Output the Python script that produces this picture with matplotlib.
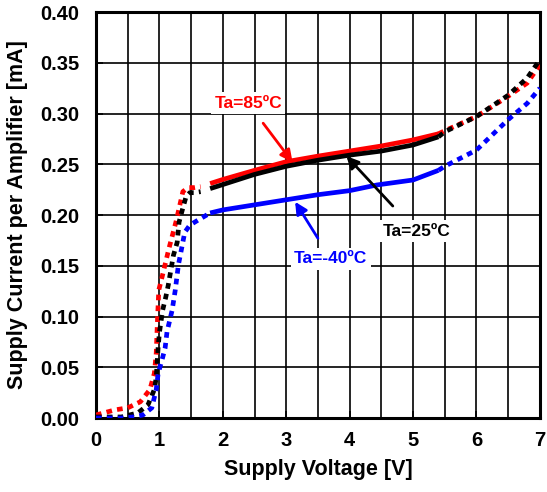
import matplotlib.pyplot as plt
import numpy as np

plt.rcParams['font.family'] = ['Liberation Sans', 'DejaVu Sans']
plt.rcParams['font.weight'] = 'bold'

# Supply voltage [V] and current [mA] per temperature
v_85 = [0.0, 0.3, 0.5, 0.7, 0.85, 0.92, 0.95, 0.97, 0.99, 1.05, 1.1, 1.15, 1.26, 1.33, 1.37, 1.45, 1.55, 1.65,
        1.8, 2.0, 2.5, 3.0, 3.5, 4.0, 4.5, 5.0, 5.4,
        5.5, 6.0, 6.5, 6.8, 7.0]
i_85 = [0.003, 0.008, 0.010, 0.016, 0.028, 0.044, 0.064, 0.097, 0.126, 0.141, 0.154, 0.167, 0.193, 0.212, 0.223, 0.227, 0.227, 0.228,
        0.231, 0.235, 0.244, 0.2525, 0.258, 0.263, 0.268, 0.274, 0.280,
        0.283, 0.297, 0.317, 0.330, 0.348]

v_25 = [0.0, 0.4, 0.66, 0.82, 0.92, 0.95, 0.98, 1.0, 1.05, 1.1, 1.14, 1.22, 1.28, 1.31, 1.37, 1.42, 1.48, 1.55, 1.65,
        1.8, 2.0, 2.5, 3.0, 3.5, 4.0, 4.5, 5.0, 5.4,
        5.5, 6.0, 6.5, 6.8, 7.0]
i_25 = [0.001, 0.001, 0.005, 0.013, 0.028, 0.040, 0.070, 0.084, 0.106, 0.119, 0.131, 0.160, 0.173, 0.193, 0.207, 0.218, 0.222, 0.222, 0.223,
        0.226, 0.230, 0.240, 0.248, 0.254, 0.259, 0.263, 0.269, 0.277,
        0.282, 0.297, 0.318, 0.335, 0.353]

v_m40 = [0.0, 0.2, 0.4, 0.58, 0.74, 0.88, 0.95, 0.98, 1.04, 1.09, 1.12, 1.2, 1.25, 1.3, 1.35, 1.4, 1.48, 1.61, 1.8,
         2.0, 2.5, 3.0, 3.5, 4.0, 4.43, 5.0, 5.4,
         5.5, 6.0, 6.5, 6.8, 7.0]
i_m40 = [0.0, 0.0, 0.0, 0.001, 0.003, 0.010, 0.028, 0.044, 0.057, 0.069, 0.085, 0.106, 0.126, 0.151, 0.167, 0.183, 0.190, 0.195, 0.202,
         0.205, 0.210, 0.215, 0.220, 0.224, 0.2296, 0.2345, 0.244,
         0.248, 0.264, 0.294, 0.310, 0.325]

series = [(v_85, i_85, '#ff0000', 1.65), (v_25, i_25, '#000000', 1.65), (v_m40, i_m40, '#0000ff', 1.8)]

fig = plt.figure(figsize=(5.47, 4.92), dpi=100)
ax = fig.add_axes([0.1755, 0.1504, 0.8115, 0.8252])

for v, i, c, low_end in series:
    v = np.array(v)
    i = np.array(i)
    low = v <= low_end
    mid = (v >= 1.8) & (v <= 5.4)
    high = v >= 5.4
    ax.plot(v[low], i[low], color=c, lw=3.4, ls=(0, (1.2, 1.1)), zorder=3)
    ax.plot(v[mid], i[mid], color=c, lw=3.4, solid_capstyle='butt', zorder=3)
    ax.plot(v[high], i[high], color=c, lw=3.4, ls=(0, (1.2, 1.1)), zorder=3)

ax.set_xlim(0, 7)
ax.set_ylim(0, 0.40)
ax.set_xticks(range(0, 8))
ax.set_yticks(np.arange(0, 0.401, 0.05))
ax.set_yticklabels(['%.2f' % t for t in np.arange(0, 0.401, 0.05)])
ax.set_xticks(np.arange(0.5, 7, 1), minor=True)
ax.grid(True, which='both', color='black', lw=1.2)
ax.tick_params(which='both', direction='in', length=5, width=1.2, labelsize=14.5)
ax.tick_params(axis='y', pad=12)
ax.tick_params(axis='x', pad=9)
ax.tick_params(which='minor', length=0)
for s in ax.spines.values():
    s.set_linewidth(2.2)

ax.set_xlabel('Supply Voltage [V]', fontsize=15.5, fontweight='bold', labelpad=7)
ax.set_ylabel('Supply Current per Amplifier [mA]', fontsize=15.5, fontweight='bold', labelpad=9)

box = dict(boxstyle='square,pad=0.2', fc='white', ec='none')
ax.annotate('Ta=85ºC', xy=(3.1, 0.252), xytext=(2.4, 0.310), color='#ff0000', fontsize=12.5, fontweight='bold',
            ha='center', va='center', bbox=box, zorder=5,
            arrowprops=dict(arrowstyle='-|>', color='#ff0000', lw=2, mutation_scale=18, shrinkA=8, shrinkB=0))
ax.annotate('Ta=25ºC', xy=(3.95, 0.258), xytext=(5.05, 0.184), color='black', fontsize=12.5, fontweight='bold',
            ha='center', va='center', bbox=box, zorder=5,
            arrowprops=dict(arrowstyle='-|>', color='black', lw=2, mutation_scale=18, shrinkA=14, shrinkB=0))
ax.annotate('Ta=-40ºC', xy=(3.14, 0.213), xytext=(3.7, 0.157), color='#0000ff', fontsize=12.5, fontweight='bold',
            ha='center', va='center', bbox=box, zorder=5,
            arrowprops=dict(arrowstyle='-|>', color='#0000ff', lw=2, mutation_scale=18, shrinkA=8, shrinkB=0))

fig.savefig('out.png', dpi=100)
